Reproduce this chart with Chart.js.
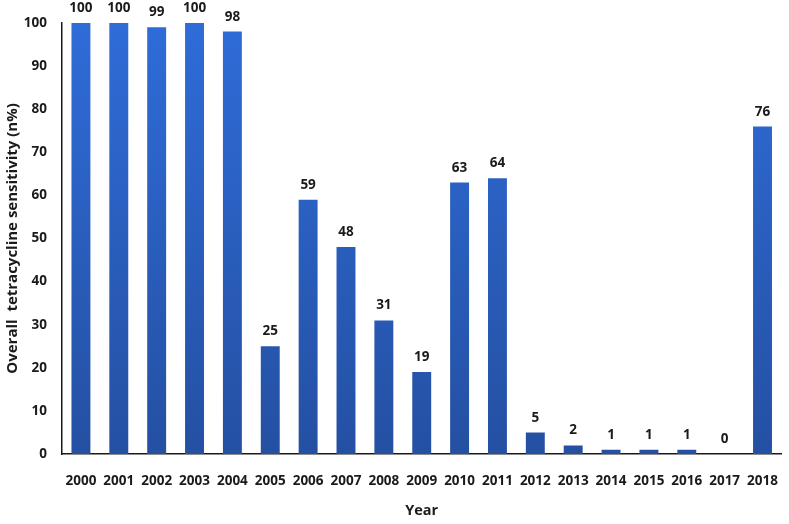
<!DOCTYPE html>
<html>
<head>
<meta charset="utf-8">
<script src="https://cdn.jsdelivr.net/npm/chart.js@4.4.1/dist/chart.umd.min.js"></script>
<style>
  html, body { margin: 0; padding: 0; background: #fff; }
  #wrap { width: 789px; height: 524px; }
</style>
</head>
<body>
<div id="wrap"><canvas id="c" width="789" height="524"></canvas></div>
<script>
// Tetracycline sensitivity by year
const years = ['2000', '2001', '2002', '2003', '2004', '2005', '2006', '2007', '2008', '2009',
  '2010', '2011', '2012', '2013', '2014', '2015', '2016', '2017', '2018'];
const sensitivity = [100, 100, 99, 100, 98, 25, 59, 48, 31, 19, 63, 64, 5, 2, 1, 1, 1, 0, 76];
const yTicks = [0, 10, 20, 30, 40, 50, 60, 70, 80, 90, 100];

const FONT = '"Open Sans", "DejaVu Sans", sans-serif';
const INK = '#1a1a1a';

// vertical gradient: lighter blue at the top, darker at the base
function barFill(ctx) {
  const area = ctx.chart.chartArea;
  if (!area) return '#2b5fbf';
  const g = ctx.chart.ctx.createLinearGradient(0, area.top, 0, area.bottom);
  g.addColorStop(0, '#2f6cd8');
  g.addColorStop(1, '#2450a2');
  return g;
}

// value labels above each bar
const valueLabels = {
  id: 'valueLabels',
  afterDatasetsDraw(chart) {
    const { ctx } = chart;
    const meta = chart.getDatasetMeta(0);
    ctx.save();
    ctx.font = 'bold 13.5px ' + FONT;
    ctx.fillStyle = INK;
    ctx.textAlign = 'center';
    ctx.textBaseline = 'bottom';
    meta.data.forEach((bar, i) => {
      ctx.fillText(String(sensitivity[i]), bar.x, bar.y - 8);
    });
    ctx.restore();
  },
};

new Chart(document.getElementById('c').getContext('2d'), {
  type: 'bar',
  data: {
    labels: years,
    datasets: [{
      data: sensitivity,
      backgroundColor: barFill,
      borderWidth: 0,
      categoryPercentage: 1.0,
      barPercentage: 0.5,
    }],
  },
  options: {
    responsive: false,
    animation: false,
    layout: { padding: { top: 23, right: 2, left: 0, bottom: 0 } },
    plugins: { legend: { display: false }, tooltip: { enabled: false } },
    scales: {
      x: {
        grid: { display: false },
        border: { display: true, color: INK, width: 1.5 },
        ticks: { color: INK, font: { family: FONT, size: 13.5, weight: 'bold' }, padding: 11, maxRotation: 0, autoSkip: false },
        title: { display: true, text: 'Year', color: INK, font: { family: FONT, size: 14.5, weight: 'bold' }, padding: { top: 24 } },
        afterFit: (s) => { s.height = 70; },
      },
      y: {
        min: 0,
        max: 100,
        afterBuildTicks: (s) => { s.ticks = yTicks.map((v) => ({ value: v })); },
        grid: { display: false },
        border: { display: true, color: INK, width: 1.5 },
        ticks: { color: INK, font: { family: FONT, size: 13.5, weight: 'bold' }, padding: 7 },
        title: { display: true, text: 'Overall  tetracycline sensitivity (n%)', color: INK, font: { family: FONT, size: 15, weight: 'bold' }, padding: { bottom: 8 } },
        afterFit: (s) => { s.width = 62; },
      },
    },
  },
  plugins: [valueLabels],
});
</script>
</body>
</html>
